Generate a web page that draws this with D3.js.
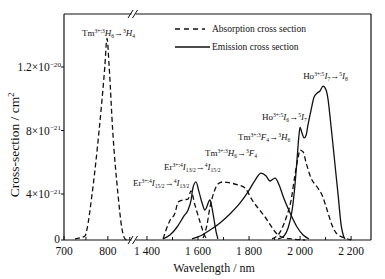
<!DOCTYPE html>
<html>
<head>
<meta charset="utf-8">
<script src="https://cdn.jsdelivr.net/npm/d3@7"></script>
<style>
  body { margin: 0; background: #fff; }
  text { font-family: "Liberation Serif", "Times New Roman", serif; fill: #111; }
</style>
</head>
<body>
<script>
// values in units of 1e-21 cm^2
const tmAbsNm  = [725, 748, 752, 764, 780, 793, 798, 803, 811, 823, 832, 839, 843];
const tmAbsVal = [0.1, 0.35, 0.87, 4.0, 8.0, 12.0, 13.8, 12.0, 8.0, 4.0, 1.0, 0.1, 0];

const erAbsNm  = [1463, 1490, 1510, 1522, 1545, 1561, 1572, 1588, 1608, 1627, 1639];
const erAbsVal = [0.1, 1.7, 2.35, 3.3, 3.5, 3.55, 4.2, 3.04, 1.57, 0.35, 0];

const erEmNm  = [1463, 1490, 1518, 1545, 1561, 1573, 1580, 1592, 1604, 1616, 1627, 1647, 1655, 1663, 1671, 1678];
const erEmVal = [0.1, 0.43, 1.13, 2.09, 2.61, 3.48, 4.38, 4.76, 4.13, 3.22, 2.61, 3.48, 2.78, 1.74, 0.7, 0.1];

const tm2AbsNm  = [1620, 1635, 1647, 1663, 1678, 1698, 1725, 1757, 1784, 1812, 1835, 1863, 1886, 1906, 1929, 1969, 2020];
const tm2AbsVal = [0.17, 1.3, 2.87, 4.13, 4.63, 4.76, 4.7, 4.57, 4.38, 3.48, 2.78, 2.0, 1.22, 0.61, 0.26, 0.09, 0];

const tmEmNm  = [1576, 1608, 1647, 1686, 1725, 1765, 1796, 1824, 1847, 1867, 1882, 1902, 1918, 1933, 1961, 1988, 2012, 2035];
const tmEmVal = [0.09, 0.35, 0.87, 1.48, 2.26, 3.22, 4.13, 4.88, 5.32, 5.13, 4.82, 5.0, 4.57, 3.83, 2.35, 1.13, 0.43, 0.09];

const hoAbsNm  = [1890, 1922, 1945, 1965, 1980, 1992, 2000, 2012, 2024, 2043, 2067, 2086, 2106, 2125, 2145, 2176, 2200];
const hoAbsVal = [0.09, 0.7, 1.91, 3.48, 5.2, 6.27, 6.77, 6.65, 5.95, 5.0, 4.44, 3.91, 2.61, 1.3, 0.52, 0.17, 0];

const hoEmNm  = [1914, 1937, 1953, 1969, 1980, 1988, 1996, 2000, 2008, 2016, 2024, 2031, 2043, 2055, 2067, 2078, 2090, 2102, 2110, 2118, 2125, 2137, 2149, 2161, 2169, 2176];
const hoEmVal = [0.09, 0.35, 1.04, 2.61, 4.57, 6.15, 7.75, 8.19, 7.81, 7.53, 7.72, 8.35, 9.29, 10.11, 10.36, 10.49, 10.8, 10.55, 9.92, 8.79, 7.72, 5.83, 3.94, 1.3, 0.43, 0.09];

const xTicksLeft  = [700, 800];
const xTicksRight = [1400, 1600, 1800, 2000, 2200];
const xLabelsRight = ["1 400", "1 600", "1 800", "2 000", "2 200"];
const yTicks = [0, 4, 8, 12];
const yTickLabels = [["0", ""], ["4×10", "−21"], ["8×10", "−21"], ["1.2×10", "−20"]];

const margins = {top: 14, bottom: 240, left: 64, right: 371};

const svg = d3.select("body").append("svg")
    .attr("width", 385)
    .attr("height", 279);

const xLeft = d3.scaleLinear().domain([700, 855]).range([margins.left, 132]);
const xRight = d3.scaleLinear().domain([1355, 2278]).range([135.5, margins.right]);
const yScale = d3.scaleLinear().domain([0, 4, 12, 15.34]).range([margins.bottom, 194, 67, margins.top]);

// rich text: [text, kind] kind = n | sup | sub | it
function rich(sel, parts, size) {
  let off = 0;
  parts.forEach(p => {
    const kind = p[1] || "n";
    let target = 0, fs = size;
    if (kind === "sup") { target = -size * 0.38; fs = size * 0.62; }
    if (kind === "sub") { target = size * 0.22; fs = size * 0.62; }
    sel.append("tspan")
       .attr("dy", target - off)
       .attr("font-size", fs)
       .attr("font-style", kind === "it" ? "italic" : null)
       .text(p[0]);
    off = target;
  });
}

// frame
const frame = svg.append("g").attr("stroke", "#111").attr("stroke-width", 1.2).attr("fill", "none");
frame.append("line").attr("x1", margins.left).attr("x2", margins.left).attr("y1", margins.top).attr("y2", margins.bottom);
frame.append("line").attr("x1", margins.right).attr("x2", margins.right).attr("y1", margins.top).attr("y2", margins.bottom);
[margins.top, margins.bottom].forEach(y => {
  frame.append("line").attr("x1", margins.left).attr("x2", 131.5).attr("y1", y).attr("y2", y);
  frame.append("line").attr("x1", 135.5).attr("x2", margins.right).attr("y1", y).attr("y2", y);
  // break marks
  [130.5, 135].forEach(bx => {
    frame.append("line").attr("x1", bx - 2.5).attr("x2", bx + 2.5).attr("y1", y + 4).attr("y2", y - 4).attr("stroke-width", 1);
  });
});

// x ticks (inward)
const tickG = svg.append("g").attr("stroke", "#111").attr("stroke-width", 1);
d3.range(700, 851, 50).forEach(v => {
  tickG.append("line").attr("x1", xLeft(v)).attr("x2", xLeft(v))
      .attr("y1", margins.bottom).attr("y2", margins.bottom - (v % 100 === 0 ? 4 : 3));
});
d3.range(1400, 2201, 100).forEach(v => {
  tickG.append("line").attr("x1", xRight(v)).attr("x2", xRight(v))
      .attr("y1", margins.bottom).attr("y2", margins.bottom - (v % 200 === 0 ? 4 : 3));
});
// y ticks (outward)
yTicks.forEach(v => {
  tickG.append("line").attr("x1", margins.left - 3).attr("x2", margins.left)
      .attr("y1", yScale(v)).attr("y2", yScale(v));
});

// tick labels
xTicksLeft.forEach(v => {
  svg.append("text").attr("x", xLeft(v)).attr("y", 255).attr("text-anchor", "middle")
     .attr("font-size", 11.5).text(v);
});
xTicksRight.forEach((v, i) => {
  svg.append("text").attr("x", xRight(v)).attr("y", 255).attr("text-anchor", "middle")
     .attr("font-size", 11.5).text(xLabelsRight[i]);
});
yTicks.forEach((v, i) => {
  const t = svg.append("text").attr("x", v === 0 ? 60 : 61).attr("y", yScale(v) + (v === 0 ? 3 : 4))
     .attr("text-anchor", "end").attr("font-size", 11.5);
  rich(t, [[yTickLabels[i][0]], [yTickLabels[i][1], "sup"]], 11.5);
});

// axis titles
svg.append("text").attr("x", 214).attr("y", 272).attr("text-anchor", "middle")
   .attr("font-size", 12).text("Wavelength / nm");
const yt = svg.append("text").attr("transform", "translate(19,145) rotate(-90)")
   .attr("text-anchor", "middle").attr("font-size", 13.5);
rich(yt, [["Cross-section / cm"], ["2", "sup"]], 13.5);

// curves
function drawCurve(nm, vals, xs, dashed) {
  const pts = nm.map((d, i) => [d, vals[i]]);
  const line = d3.line().x(d => xs(d[0])).y(d => yScale(d[1])).curve(d3.curveMonotoneX);
  svg.append("path")
     .datum(pts)
     .attr("d", line)
     .attr("fill", "none")
     .attr("stroke", "#111")
     .attr("stroke-width", 1.3)
     .attr("stroke-dasharray", dashed ? "5,3" : null);
}
drawCurve(tmAbsNm, tmAbsVal, xLeft, true);
drawCurve(erAbsNm, erAbsVal, xRight, true);
drawCurve(erEmNm, erEmVal, xRight, false);
drawCurve(tm2AbsNm, tm2AbsVal, xRight, true);
drawCurve(tmEmNm, tmEmVal, xRight, false);
drawCurve(hoAbsNm, hoAbsVal, xRight, true);
drawCurve(hoEmNm, hoEmVal, xRight, false);

// transition labels, anchored in data coords
const annotations = [
  {nm: 741, v: 13.95, left: true, parts: [["Tm"], ["3+:3", "sup"], ["H", "it"], ["6", "sub"], ["→"], ["3", "sup"], ["H", "it"], ["4", "sub"]]},
  {nm: 2012, v: 11.24, parts: [["Ho"], ["3+:5", "sup"], ["I", "it"], ["7", "sub"], ["→"], ["5", "sup"], ["I", "it"], ["8", "sub"]]},
  {nm: 1851, v: 8.66, parts: [["Ho"], ["3+:5", "sup"], ["I", "it"], ["6", "sub"], ["→"], ["5", "sup"], ["I", "it"], ["7", "sub"]]},
  {nm: 1757, v: 7.4, parts: [["Tm"], ["3+:3", "sup"], ["F", "it"], ["4", "sub"], ["→"], ["3", "sup"], ["H", "it"], ["6", "sub"]]},
  {nm: 1627, v: 6.39, parts: [["Tm"], ["3+:3", "sup"], ["H", "it"], ["6", "sub"], ["→"], ["3", "sup"], ["F", "it"], ["4", "sub"]]},
  {nm: 1467, v: 5.51, parts: [["Er"], ["3+:4", "sup"], ["I", "it"], ["13/2", "sub"], ["→"], ["4", "sup"], ["I", "it"], ["15/2", "sub"]]},
  {nm: 1345, v: 4.5, parts: [["Er"], ["3+:4", "sup"], ["I", "it"], ["15/2", "sub"], ["→"], ["4", "sup"], ["I", "it"], ["13/2", "sub"]]}
];
annotations.forEach(a => {
  const xs = a.left ? xLeft : xRight;
  const t = svg.append("text").attr("x", xs(a.nm)).attr("y", yScale(a.v)).attr("font-size", 9);
  rich(t, a.parts, 9);
});

// legend
const legend = svg.append("g");
legend.append("line").attr("x1", 175).attr("x2", 205).attr("y1", 29).attr("y2", 29)
      .attr("stroke", "#111").attr("stroke-width", 1.3).attr("stroke-dasharray", "5,4");
legend.append("text").attr("x", 212).attr("y", 32).attr("font-size", 9.5).text("Absorption cross section");
legend.append("line").attr("x1", 175).attr("x2", 210).attr("y1", 47).attr("y2", 47)
      .attr("stroke", "#111").attr("stroke-width", 1.3);
legend.append("text").attr("x", 212).attr("y", 50).attr("font-size", 9.5).text("Emission cross section");
</script>
</body>
</html>
